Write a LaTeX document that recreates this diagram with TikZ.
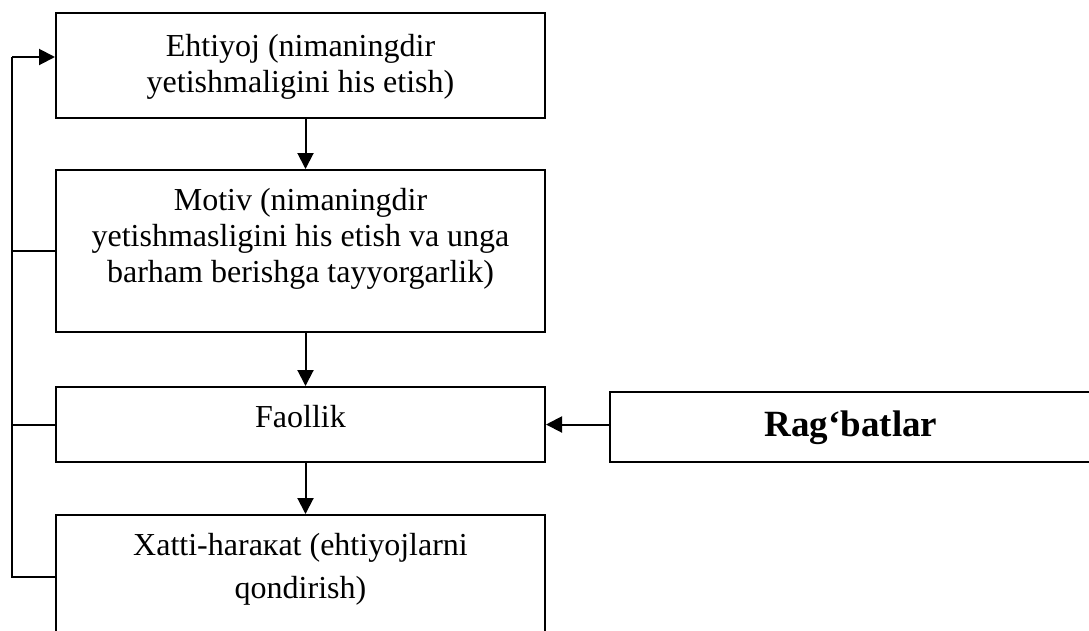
\documentclass[tikz,border=0pt]{standalone}
\usepackage{fontspec}
\setmainfont{Liberation Serif}
\usetikzlibrary{arrows.meta}
\begin{document}
\begin{tikzpicture}[x=1pt,y=-1pt,
  flowbox/.style={draw=black,line width=2pt,inner sep=0pt,fill=white},
  boxtext/.style={inner sep=0pt,anchor=base,font=\fontsize{32}{36}\selectfont},
  boldtext/.style={inner sep=0pt,anchor=base,font=\fontsize{37}{41}\selectfont\bfseries},
  flowarrow/.style={line width=2pt,-{Triangle[length=16pt,width=16pt]}},
  joinline/.style={line width=2pt}]
\useasboundingbox (0,0) rectangle (1089,630);
\clip (0,0) rectangle (1089,630);

% main column of boxes
\node[flowbox,minimum width=489pt,minimum height=105pt] (need) at (300.5,65.5) {};
\node[flowbox,minimum width=489pt,minimum height=162pt] (motive) at (300.5,251) {};
\node[flowbox,minimum width=489pt,minimum height=75pt] (activity) at (300.5,424.5) {};
\node[flowbox,minimum width=489pt,minimum height=124pt] (behaviour) at (300.5,577) {};
% stimuli box on the right
\node[flowbox,minimum width=490pt,minimum height=70pt] (stimuli) at (855,427) {};

% box texts
\node[boxtext] (needA) at (300.5,56) {Ehtiyoj (nimaningdir};
\node[boxtext] (needB) at (300.5,92) {yetishmaligini his etish)};
\node[boxtext] (motA) at (300.5,210) {Motiv (nimaningdir};
\node[boxtext] (motB) at (300.5,246) {yetishmasligini his etish va unga};
\node[boxtext] (motC) at (300.5,282) {barham berishga tayyorgarlik)};
\node[boxtext] (actA) at (300.5,427) {Faollik};
\node[boxtext] (behA) at (300.5,555) {Xatti-haraкat (ehtiyojlarni};
\node[boxtext] (behB) at (300.5,598) {qondirish)};
\node[boldtext] (stimA) at (851,436) {Rag‘batlar};

% downward flow
\coordinate (axis) at (305.5,0);
\draw[flowarrow] (need.south -| axis) -- (motive.north -| axis);
\draw[flowarrow] (motive.south -| axis) -- (activity.north -| axis);
\draw[flowarrow] (activity.south -| axis) -- (behaviour.north -| axis);

% stimuli feed into activity
\draw[flowarrow] (activity.east -| stimuli.west) -- (activity.east);

% feedback line on the left
\coordinate (fbtop) at (12,57);
\draw[joinline] (behaviour.west) -| (fbtop);
\draw[flowarrow] (fbtop) -- (need.west |- fbtop);
\draw[joinline] (motive.west) -- (motive.west -| fbtop);
\draw[joinline] (activity.west) -- (activity.west -| fbtop);
\end{tikzpicture}
\end{document}
